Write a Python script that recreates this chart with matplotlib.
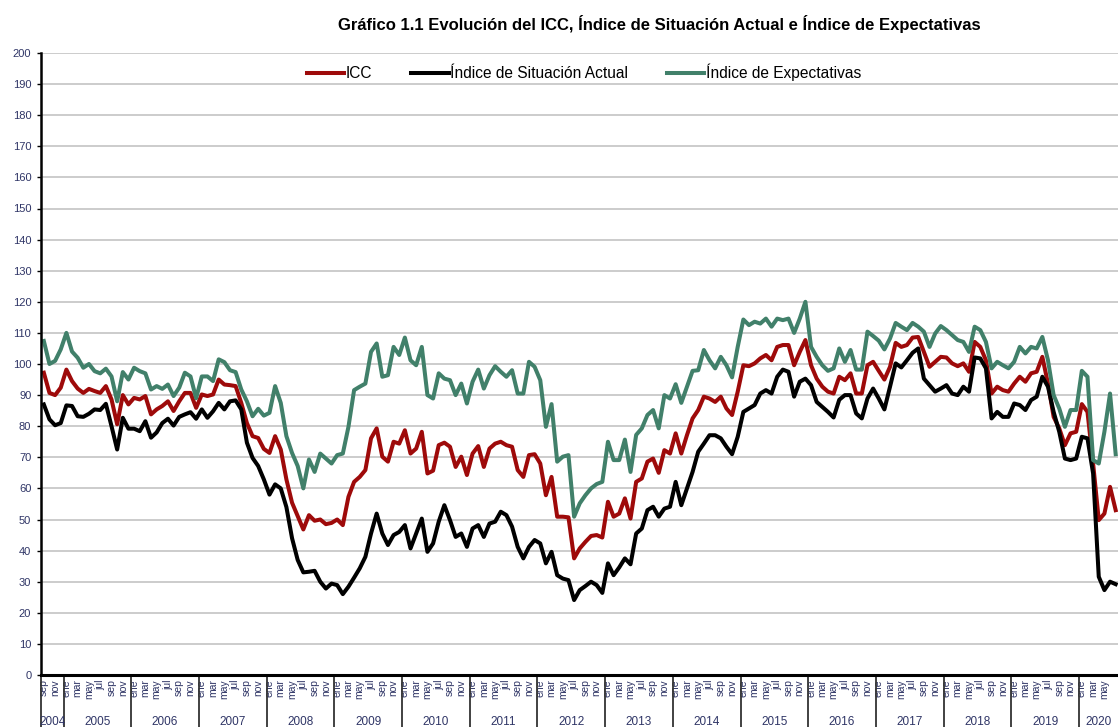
import numpy as np
import matplotlib.pyplot as plt
import matplotlib.transforms as mtransforms

plt.rcParams['font.family'] = ['Liberation Sans', 'DejaVu Sans']

meses = ["ene", "feb", "mar", "abr", "may", "jun",
         "jul", "ago", "sep", "oct", "nov", "dic"]

# periodo: sep 2004 - jul 2020, mensual
periodos = [(a, m) for a in range(2004, 2021) for m in range(12)
            if (2004, 8) <= (a, m) <= (2020, 6)]

icc = [
    97.2, 90.7, 90.0, 92.4,                                                    # 2004
    98.2, 94.5, 92.1, 90.7, 92.0, 91.3, 90.7, 92.9, 88.6, 80.6, 90.0, 87.0,    # 2005
    89.1, 88.6, 89.7, 83.8, 85.4, 86.5, 88.0, 84.9, 88.0, 90.7, 90.7, 85.9,    # 2006
    90.2, 89.7, 90.2, 95.0, 93.4, 93.2, 92.9, 87.5, 81.0, 76.8, 76.2, 72.7,    # 2007
    71.4, 76.8, 72.5, 62.9, 55.4, 51.1, 46.8, 51.4, 49.6, 50.0, 48.5, 48.9,    # 2008
    50.0, 48.2, 57.3, 62.1, 63.7, 65.9, 76.1, 79.3, 70.2, 68.6, 75.0, 74.4,    # 2009
    78.7, 71.2, 72.8, 78.2, 64.8, 65.7, 73.9, 74.7, 73.4, 66.9, 70.2, 64.3,    # 2010
    71.2, 73.6, 66.9, 72.8, 74.4, 75.0, 73.9, 73.4, 65.9, 63.7, 70.7, 71.0,    # 2011
    68.0, 57.8, 63.7, 50.9, 50.9, 50.7, 37.5, 40.7, 42.8, 44.7, 45.0, 44.2,    # 2012
    55.7, 50.9, 51.9, 56.8, 50.3, 62.1, 63.2, 68.6, 69.6, 65.0, 72.3, 71.2,    # 2013
    77.7, 71.2, 77.1, 82.5, 85.2, 89.5, 88.9, 87.8, 89.5, 85.7, 83.6, 91.1,    # 2014
    99.6, 99.3, 100.2, 101.8, 102.9, 101.2, 105.5, 106.1, 106.1, 99.6, 103.9, 107.7,  # 2015
    99.6, 95.3, 92.7, 91.1, 90.5, 95.9, 94.8, 97.0, 90.5, 90.5, 99.6, 100.7,   # 2016
    97.8, 95.0, 99.1, 106.8, 105.5, 106.1, 108.5, 108.7, 103.9, 99.1, 100.7, 102.3,   # 2017
    102.1, 100.2, 99.3, 100.2, 97.5, 107.1, 105.5, 101.2, 90.5, 92.7, 91.6, 91.1,     # 2018
    93.7, 95.9, 94.3, 97.0, 97.5, 102.3, 93.7, 83.0, 79.3, 73.9, 77.7, 78.2,   # 2019
    87.1, 84.6, 68.0, 49.8, 51.9, 60.5, 53.0,                                  # 2020
]

situacion_actual = [
    87.0, 82.2, 80.3, 81.0,
    86.7, 86.5, 83.2, 83.0, 84.0, 85.4, 85.2, 87.2, 80.0, 72.5, 82.7, 79.2,
    79.2, 78.4, 81.6, 76.3, 78.0, 81.0, 82.4, 80.2, 83.0, 83.8, 84.5, 82.4,
    85.4, 82.7, 84.8, 87.5, 85.4, 88.0, 88.3, 85.4, 74.7, 69.8, 67.2, 62.9,
    58.0, 61.3, 60.0, 54.0, 44.0, 37.0, 33.0, 33.2, 33.5, 30.0, 27.8, 29.4,
    28.9, 26.0, 28.4, 31.3, 34.3, 38.0, 45.5, 51.9, 45.5, 41.8, 45.0, 46.0,
    48.2, 40.7, 45.5, 50.3, 39.6, 42.3, 49.3, 54.6, 49.8, 44.4, 45.5, 41.2,
    47.1, 48.2, 44.4, 48.7, 49.3, 52.5, 51.4, 47.7, 41.2, 37.5, 41.2, 43.4,
    42.3, 35.9, 39.6, 32.1, 31.0, 30.5, 24.1, 27.3, 28.6, 30.0, 28.9, 26.4,
    35.9, 32.1, 34.6, 37.5, 35.6, 45.5, 47.1, 53.0, 54.1, 50.9, 53.5, 54.1,
    62.1, 54.6, 60.0, 65.3, 71.8, 74.4, 77.1, 77.1, 76.1, 73.4, 71.0, 76.6,
    84.6, 85.7, 86.8, 90.5, 91.6, 90.5, 95.9, 98.2, 97.5, 89.5, 94.3, 95.3,
    93.2, 87.8, 86.2, 84.6, 82.8, 88.5, 90.0, 90.0, 84.1, 82.5, 88.9, 92.1,
    88.9, 85.4, 92.7, 100.2, 98.9, 101.2, 103.6, 105.0, 95.3, 93.2, 91.1, 92.1,
    93.2, 90.5, 90.0, 92.7, 91.1, 102.1, 101.8, 98.6, 82.5, 84.6, 83.0, 83.0,
    87.3, 86.8, 85.2, 88.4, 89.5, 95.9, 92.7, 84.6, 78.2, 69.6, 69.1, 69.6,
    76.6, 76.1, 64.8, 31.6, 27.3, 30.0, 29.2,
]

expectativas = [
    107.4, 100.0, 101.0, 104.7,
    110.0, 104.0, 102.0, 98.8, 100.0, 97.7, 97.0, 98.5, 96.0, 88.0, 97.4, 95.0,
    98.8, 97.7, 97.0, 91.8, 92.9, 92.0, 93.4, 89.7, 92.4, 97.2, 96.0, 89.0,
    96.0, 96.0, 94.5, 101.5, 100.6, 98.0, 97.4, 91.8, 88.0, 83.2, 85.6, 83.4,
    84.3, 92.9, 87.5, 76.8, 71.4, 67.2, 60.0, 69.3, 65.3, 71.2, 69.6, 68.0,
    70.7, 71.2, 79.8, 91.6, 92.7, 93.7, 103.9, 106.6, 95.9, 96.4, 105.5, 102.9,
    108.5, 101.2, 99.6, 105.5, 90.0, 88.9, 97.0, 95.3, 94.8, 90.0, 93.7, 87.3,
    94.3, 98.2, 92.1, 96.4, 99.3, 97.5, 95.9, 98.0, 90.5, 90.5, 100.7, 99.1,
    94.8, 79.8, 87.1, 68.6, 70.2, 70.7, 50.9, 55.2, 57.8, 60.0, 61.4, 62.1,
    75.0, 69.1, 69.1, 75.7, 65.3, 77.2, 79.3, 83.6, 85.2, 79.3, 90.0, 88.9,
    93.5, 87.5, 92.7, 97.8, 98.0, 104.5, 101.2, 98.6, 102.3, 99.6, 95.7, 105.5,
    114.3, 112.5, 113.6, 113.0, 114.6, 112.0, 114.6, 114.1, 114.6, 110.0, 114.6, 120.0,
    105.5, 102.3, 99.6, 97.8, 98.6, 105.0, 100.7, 104.5, 98.2, 98.2, 110.4, 109.0,
    107.5, 104.7, 108.2, 113.2, 112.0, 110.9, 113.2, 112.0, 110.4, 105.5, 109.8, 112.2,
    110.9, 109.3, 107.7, 107.1, 103.9, 112.0, 110.9, 107.1, 98.6, 100.7, 99.6, 98.6,
    100.7, 105.5, 103.4, 105.5, 105.0, 108.7, 101.2, 90.0, 85.7, 79.8, 85.2, 85.2,
    97.8, 95.9, 69.1, 68.0, 78.2, 90.5, 71.0,
]

x = np.arange(len(periodos))
label_color = "#2f3566"

fig = plt.figure(figsize=(11.18, 7.27), dpi=100)
ax = fig.add_axes([41 / 1118, 52 / 727, 1077.5 / 1118, 622 / 727])

ax.plot(x, icc, color="#9e0a0a", lw=2.9, label="ICC", solid_joinstyle="round")
ax.plot(x, situacion_actual, color="black", lw=2.9,
        label="Índice de Situación Actual", solid_joinstyle="round")
ax.plot(x, expectativas, color="#41806a", lw=2.9,
        label="Índice de Expectativas", solid_joinstyle="round")

ax.set_xlim(-0.5, len(periodos) - 0.5)
ax.set_ylim(0, 200)
ax.set_yticks(np.arange(0, 201, 10))
ax.yaxis.grid(True, color="#c4c4c4", lw=1.2)
ax.set_axisbelow(True)
ax.tick_params(axis="y", labelsize=8, labelcolor=label_color, length=3,
               width=1, pad=4)

for s in ["top", "right"]:
    ax.spines[s].set_visible(False)
ax.spines["left"].set_linewidth(1.8)
ax.spines["bottom"].set_linewidth(2.2)

# etiquetas de mes cada dos meses (la última queda fuera del recorte)
ticks = x[::2][:-1]
ax.set_xticks(ticks)
ax.set_xticklabels([meses[periodos[i][1]] for i in ticks], rotation=90,
                   fontsize=7.5, color=label_color, va="top")
ax.tick_params(axis="x", length=0, pad=3)

# años y separadores
trans = mtransforms.blended_transform_factory(ax.transData, ax.transAxes)
anios = [a for a, m in periodos]
for a in sorted(set(anios)):
    idx = [i for i, v in enumerate(anios) if v == a]
    ax.plot([idx[0] - 0.5, idx[0] - 0.5], [0, -0.09], transform=trans,
            color="#333333", lw=1.3, clip_on=False)
    ax.text((idx[0] + idx[-1]) / 2, -0.075, str(a), transform=trans,
            ha="center", va="center", fontsize=8.5, color=label_color)

ax.legend(loc="upper center", bbox_to_anchor=(0.504, 1.005), ncol=3,
          frameon=False, fontsize=11.2, handlelength=2.4, handletextpad=0.1,
          columnspacing=2.5)

fig.text(0.5895, 0.967,
         "Gráfico 1.1 Evolución del ICC, Índice de Situación Actual e Índice de Expectativas",
         ha="center", va="center", fontsize=12, fontweight="bold")

fig.savefig("out.png", dpi=100)
